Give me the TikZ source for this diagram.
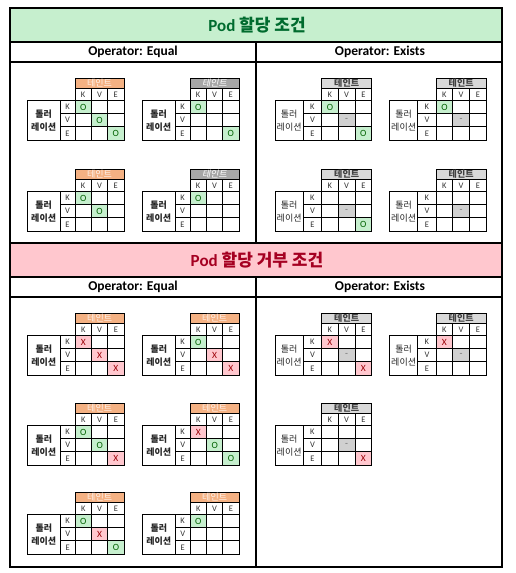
\documentclass[tikz,border=0pt]{standalone}
\usepackage{fontspec}
\setmainfont{Carlito}
\newfontfamily\kr{Noto Sans CJK KR}
\newfontfamily\krit{Noto Sans CJK KR}[FakeSlant=0.2]
\definecolor{titlegreenbg}{HTML}{C6EFCE}
\definecolor{titlegreenfg}{HTML}{006B2E}
\definecolor{titleredbg}{HTML}{FFC7CE}
\definecolor{titleredfg}{HTML}{A50021}
\definecolor{orhdr}{HTML}{F4B183}
\definecolor{orhdrfg}{HTML}{FFF2EA}
\definecolor{grhdr}{HTML}{A6A6A6}
\definecolor{lthdr}{HTML}{D9D9D9}
\definecolor{okbg}{HTML}{C6EFCE}
\definecolor{okfg}{HTML}{006100}
\definecolor{badbg}{HTML}{FFC7CE}
\definecolor{badfg}{HTML}{9C0006}
\definecolor{dashbg}{HTML}{D0D0D0}
\definecolor{dashfg}{HTML}{707070}
\tikzset{
  frame/.style={line width=2pt, draw=black},
  rule/.style={line width=1.6pt, draw=black},
  gline/.style={line width=0.7pt, draw=black},
  titletext/.style={font=\fontsize{17}{20}\selectfont\bfseries, inner sep=0pt},
  optext/.style={font=\fontsize{13.5}{16}\selectfont\bfseries, inner sep=0pt},
  hf or/.style={fill=orhdr}, hf gr/.style={fill=grhdr}, hf lt/.style={fill=lthdr},
  ht or/.style={text=orhdrfg, inner sep=0pt, font=\kr\fontsize{9}{10}\selectfont},
  ht gr/.style={text=white, inner sep=0pt, font=\krit\fontsize{9}{10}\selectfont},
  ht lt/.style={text=black!75, inner sep=0pt, font=\kr\bfseries\fontsize{9}{10}\selectfont},
  axislab/.style={font=\fontsize{8.5}{9}\selectfont, text=black!80, inner sep=0pt},
  lab eq/.style={font=\kr\bfseries\fontsize{9}{13}\selectfont, align=center, inner sep=0pt, text=black!85},
  lab ex/.style={font=\kr\fontsize{9}{13}\selectfont, align=center, inner sep=0pt, text=black!85},
  celltxt/.style={font=\fontsize{9.5}{10}\selectfont, inner sep=0pt},
  cf o/.style={fill=okbg}, cf x/.style={fill=badbg}, cf d/.style={fill=dashbg},
  ct o/.style={text=okfg}, ct x/.style={text=badfg}, ct d/.style={text=dashfg},
}
\def\celltxto{O}\def\celltxtx{X}\def\celltxtd{-}
\def\hh{10.5}\def\kh{12}\def\rh{13.17}
\newcommand\dcell[3]{%
  \if n#3\else
    \path[cf #3] ({\xb+#2*\cw},{\yb+#2*\rh}) rectangle ++(\cw,\rh);
    \node[celltxt, ct #3] (#1-d#2) at ({\xb+(#2+0.5)*\cw},{\yb+(#2+0.5)*\rh}) {\csname celltxt#3\endcsname};
  \fi}
\newcommand\tgrid[8]{%
  \begin{scope}[shift={(#2,#3)}]
    \pgfmathsetmacro\xa{\bw}
    \pgfmathsetmacro\xb{\bw+\lw}
    \pgfmathsetmacro\xe{\bw+\lw+3*\cw}
    \pgfmathsetmacro\ya{\hh}
    \pgfmathsetmacro\yb{\hh+\kh}
    \pgfmathsetmacro\ye{\hh+\kh+3*\rh}
    \path[hf #4] (\xb,0) rectangle (\xe,\ya);
    \dcell{#1}{0}{#6}\dcell{#1}{1}{#7}\dcell{#1}{2}{#8}
    \draw[gline] (\xb,0) rectangle (\xe,\ye);
    \draw[gline] (\xb,\ya) -- (\xe,\ya);
    \draw[gline] (0,\yb) rectangle (\xe,\ye);
    \draw[gline] (\xa,\yb) -- (\xa,\ye);
    \foreach \i in {1,2} {
      \draw[gline] ({\xb+\i*\cw},\ya) -- ({\xb+\i*\cw},\ye);
      \draw[gline] (\xa,{\yb+\i*\rh}) -- (\xe,{\yb+\i*\rh});
    }
    \node[ht #4] (#1-h) at ({\xb+1.5*\cw},{0.5*\ya}) {테인트};
    \node[axislab] (#1-ck) at ({\xb+0.5*\cw},{\ya+0.5*\kh}) {K};
    \node[axislab] (#1-cv) at ({\xb+1.5*\cw},{\ya+0.5*\kh}) {V};
    \node[axislab] (#1-ce) at ({\xb+2.5*\cw},{\ya+0.5*\kh}) {E};
    \node[axislab] (#1-rk) at ({\xa+0.5*\lw},{\yb+0.5*\rh}) {K};
    \node[axislab] (#1-rv) at ({\xa+0.5*\lw},{\yb+1.5*\rh}) {V};
    \node[axislab] (#1-re) at ({\xa+0.5*\lw},{\yb+2.5*\rh}) {E};
    \node[lab #5] (#1-l) at ({0.5*\xa},{\yb+1.5*\rh}) {톨러\\레이션};
  \end{scope}}
\newcommand\eqgrid[7]{\def\bw{32.7}\def\lw{15}\def\cw{16.3}\tgrid{#1}{#2}{#3}{#4}{eq}{#5}{#6}{#7}}
\newcommand\exgrid[6]{\def\bw{28.3}\def\lw{18.3}\def\cw{16.7}\tgrid{#1}{#2}{#3}{lt}{ex}{#4}{#5}{#6}}
\begin{document}
\begin{tikzpicture}[x=1pt,y=-1pt]
\useasboundingbox (0,0) rectangle (516,573);
% section backgrounds
\fill[titlegreenbg] (9.5,7.5) rectangle (502,42);
\fill[titleredbg] (9.5,243) rectangle (502,277);
% rules
\draw[rule] (9.5,42) -- (502,42);
\draw[rule] (9.5,62) -- (502,62);
\draw[rule] (9.5,243) -- (502,243);
\draw[rule] (9.5,277) -- (502,277);
\draw[rule] (9.5,297) -- (502,297);
\draw[rule] (256,42) -- (256,243);
\draw[rule] (256,277) -- (256,566.5);
\draw[frame] (9.5,7.5) rectangle (502,566.5);
% titles
\node[titletext, text=titlegreenfg] (t1) at (257,25) {Pod {\kr 할당 조건}};
\node[titletext, text=titleredfg] (t2) at (257,260) {Pod {\kr 할당 거부 조건}};
\node[optext] (o1) at (133,52) {Operator: Equal};
\node[optext] (o2) at (380,52) {Operator: Exists};
\node[optext] (o3) at (133,287) {Operator: Equal};
\node[optext] (o4) at (380,287) {Operator: Exists};
% top: allowed
\eqgrid{a1}{27.3}{78}{or}{o}{o}{o}
\eqgrid{a2}{142.3}{78}{gr}{o}{n}{o}
\eqgrid{a3}{27.3}{169}{or}{o}{o}{n}
\eqgrid{a4}{142.3}{169}{gr}{o}{n}{n}
\exgrid{b1}{275}{78}{o}{d}{o}
\exgrid{b2}{389.5}{78}{o}{d}{n}
\exgrid{b3}{275}{169}{n}{d}{o}
\exgrid{b4}{389.5}{169}{n}{d}{n}
% bottom: rejected
\eqgrid{c1}{27.5}{313}{or}{x}{x}{x}
\eqgrid{c2}{142.5}{313}{or}{o}{x}{x}
\eqgrid{c3}{27.5}{403}{or}{o}{o}{x}
\eqgrid{c4}{142.5}{403}{or}{x}{o}{o}
\eqgrid{c5}{27.5}{492}{or}{o}{x}{o}
\eqgrid{c6}{142.5}{492}{or}{o}{n}{n}
\exgrid{d1}{275}{313}{x}{d}{x}
\exgrid{d2}{389.5}{313}{x}{d}{n}
\exgrid{d3}{275}{403}{n}{d}{x}
\end{tikzpicture}
\end{document}
